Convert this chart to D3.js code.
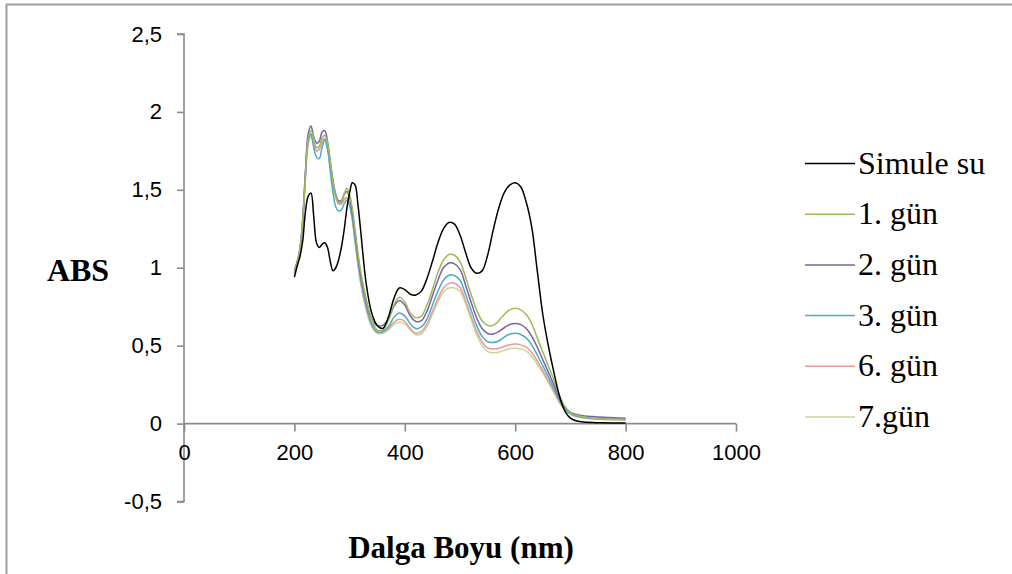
<!DOCTYPE html>
<html>
<head>
<meta charset="utf-8">
<script src="https://cdn.jsdelivr.net/npm/d3@7"></script>
<style>
  html, body { margin: 0; padding: 0; background: #fff; }
  svg { display: block; }
</style>
</head>
<body>
<svg id="chart" width="1012" height="574"></svg>
<script>
// Wavelength grid (nm) shared by all spectra
const wavelengths = [200, 205, 210, 215, 220, 225, 230, 235, 240, 245, 250, 255, 260, 265, 270, 275, 280, 285, 290, 295, 300, 305, 310, 315, 320, 330, 340, 350, 360, 370, 380, 390, 400, 410, 420, 430, 440, 450, 460, 470, 480, 490, 500, 510, 520, 530, 540, 550, 560, 570, 580, 590, 600, 610, 620, 630, 640, 650, 660, 670, 680, 690, 700, 710, 720, 740, 760, 780, 800];

// Absorbance values
const simuleSu = [0.94, 1.01, 1.07, 1.17, 1.36, 1.46, 1.48, 1.33, 1.16, 1.13, 1.15, 1.16, 1.13, 1.04, 0.98, 1.00, 1.05, 1.13, 1.24, 1.38, 1.48, 1.545, 1.53, 1.41, 1.24, 0.90, 0.71, 0.63, 0.61, 0.68, 0.80, 0.87, 0.86, 0.83, 0.825, 0.85, 0.93, 1.04, 1.16, 1.25, 1.29, 1.28, 1.21, 1.10, 1.00, 0.965, 0.98, 1.08, 1.24, 1.38, 1.48, 1.53, 1.545, 1.52, 1.42, 1.26, 0.98, 0.70, 0.50, 0.33, 0.18, 0.08, 0.035, 0.018, 0.012, 0.007, 0.005, 0.004, 0.003];
const gun1 = [0.97, 1.03, 1.12, 1.30, 1.60, 1.83, 1.88, 1.83, 1.77, 1.78, 1.83, 1.85, 1.80, 1.68, 1.55, 1.46, 1.42, 1.42, 1.47, 1.51, 1.47, 1.38, 1.24, 1.10, 0.98, 0.80, 0.67, 0.60, 0.60, 0.66, 0.76, 0.81, 0.78, 0.71, 0.68, 0.69, 0.76, 0.86, 0.97, 1.05, 1.085, 1.08, 1.04, 0.94, 0.83, 0.73, 0.66, 0.63, 0.63, 0.66, 0.70, 0.73, 0.74, 0.73, 0.70, 0.64, 0.55, 0.46, 0.37, 0.28, 0.18, 0.11, 0.07, 0.055, 0.045, 0.035, 0.030, 0.028, 0.027];
const gun2 = [0.98, 1.04, 1.12, 1.30, 1.62, 1.86, 1.91, 1.84, 1.80, 1.81, 1.87, 1.88, 1.81, 1.68, 1.56, 1.47, 1.43, 1.43, 1.47, 1.49, 1.45, 1.35, 1.22, 1.08, 0.96, 0.79, 0.67, 0.63, 0.63, 0.67, 0.75, 0.79, 0.76, 0.69, 0.655, 0.66, 0.72, 0.82, 0.92, 1.00, 1.03, 1.025, 0.99, 0.89, 0.78, 0.68, 0.61, 0.578, 0.575, 0.59, 0.615, 0.636, 0.643, 0.635, 0.61, 0.56, 0.49, 0.41, 0.33, 0.25, 0.165, 0.105, 0.072, 0.06, 0.052, 0.045, 0.040, 0.037, 0.035];
const gun3 = [0.97, 1.03, 1.12, 1.30, 1.60, 1.82, 1.86, 1.77, 1.71, 1.70, 1.77, 1.82, 1.76, 1.62, 1.48, 1.39, 1.365, 1.37, 1.41, 1.43, 1.40, 1.32, 1.18, 1.05, 0.93, 0.76, 0.64, 0.59, 0.59, 0.62, 0.68, 0.71, 0.69, 0.64, 0.61, 0.62, 0.67, 0.76, 0.85, 0.92, 0.952, 0.95, 0.92, 0.83, 0.73, 0.63, 0.56, 0.525, 0.52, 0.53, 0.555, 0.573, 0.579, 0.572, 0.55, 0.505, 0.44, 0.37, 0.30, 0.225, 0.15, 0.095, 0.065, 0.05, 0.042, 0.035, 0.030, 0.028, 0.027];
const gun6 = [0.96, 1.02, 1.10, 1.28, 1.58, 1.80, 1.85, 1.79, 1.75, 1.76, 1.81, 1.83, 1.78, 1.66, 1.53, 1.45, 1.41, 1.41, 1.44, 1.45, 1.41, 1.31, 1.17, 1.03, 0.91, 0.74, 0.63, 0.585, 0.585, 0.61, 0.65, 0.67, 0.655, 0.61, 0.58, 0.59, 0.64, 0.72, 0.80, 0.87, 0.90, 0.90, 0.875, 0.79, 0.69, 0.595, 0.525, 0.485, 0.478, 0.483, 0.495, 0.506, 0.51, 0.505, 0.49, 0.455, 0.40, 0.34, 0.275, 0.21, 0.14, 0.09, 0.062, 0.047, 0.04, 0.033, 0.028, 0.026, 0.025];
const gun7 = [0.96, 1.02, 1.10, 1.27, 1.57, 1.79, 1.84, 1.79, 1.75, 1.76, 1.80, 1.82, 1.77, 1.65, 1.53, 1.45, 1.42, 1.41, 1.43, 1.44, 1.40, 1.30, 1.16, 1.02, 0.90, 0.73, 0.62, 0.58, 0.58, 0.60, 0.635, 0.65, 0.64, 0.60, 0.57, 0.575, 0.62, 0.70, 0.78, 0.845, 0.87, 0.87, 0.85, 0.77, 0.67, 0.57, 0.50, 0.462, 0.454, 0.458, 0.47, 0.48, 0.483, 0.478, 0.465, 0.43, 0.38, 0.325, 0.265, 0.20, 0.135, 0.088, 0.06, 0.045, 0.038, 0.030, 0.026, 0.024, 0.023];

const seriesNames = ["Simule su", "1. gün", "2. gün", "3. gün", "6. gün", "7.gün"];
const seriesValues = [simuleSu, gun1, gun2, gun3, gun6, gun7];
const seriesColors = ["#000000", "#9bbb59", "#7c5fa4", "#4bacc6", "#e89a9c", "#c4d79b"];

// Axis ticks
const xTicks = [0, 200, 400, 600, 800, 1000];
const yTicks = [-0.5, 0, 0.5, 1, 1.5, 2, 2.5];
const yTickLabels = ["-0,5", "0", "0,5", "1", "1,5", "2", "2,5"];

const svg = d3.select("#chart");

// Outer frame (top and left edges)
svg.append("path")
  .attr("d", "M6.5,574 V4.5 H1012")
  .attr("fill", "none")
  .attr("stroke", "#a0a0a0")
  .attr("stroke-width", 2);

const x = d3.scaleLinear().domain([0, 1000]).range([184, 736]);
const y = d3.scaleLinear().domain([-0.5, 2.5]).range([501.5, 34]);

const axisColor = "#8a8a8a";
const tickFont = "'Liberation Sans', Arial, sans-serif";

// Y axis
const yAxis = svg.append("g")
  .attr("transform", `translate(${x(0)},0)`)
  .call(d3.axisLeft(y).tickValues(yTicks).tickSize(7).tickPadding(15)
    .tickFormat((d, i) => yTickLabels[i]));
yAxis.select(".domain").attr("stroke", axisColor).attr("stroke-width", 1.6)
  .attr("d", `M-7,${y(-0.5)}H0V${y(2.5)}H-7`);
yAxis.selectAll(".tick line").attr("stroke", axisColor).attr("stroke-width", 1.6);
yAxis.selectAll(".tick text")
  .attr("fill", "#000").style("font-family", tickFont).style("font-size", "22px");

// X axis at y = 0
const xAxis = svg.append("g")
  .attr("transform", `translate(0,${y(0)})`)
  .call(d3.axisBottom(x).tickValues(xTicks).tickSize(8).tickPadding(13)
    .tickFormat(d3.format("d")));
xAxis.select(".domain").attr("stroke", axisColor).attr("stroke-width", 1.6)
  .attr("d", `M${x(0)},0H${x(1000)}`);
xAxis.selectAll(".tick line").attr("stroke", axisColor).attr("stroke-width", 1.6);
xAxis.selectAll(".tick text")
  .attr("fill", "#000").style("font-family", tickFont).style("font-size", "22px");

// Spectra
const line = d3.line()
  .x((d, i) => x(wavelengths[i]))
  .y(d => y(d))
  .curve(d3.curveCatmullRom.alpha(0.5));

const drawOrder = [5, 4, 3, 2, 1, 0];
svg.append("g").selectAll("path")
  .data(drawOrder)
  .join("path")
  .attr("d", k => line(seriesValues[k]))
  .attr("fill", "none")
  .attr("stroke", k => seriesColors[k])
  .attr("stroke-width", 1.5)
  .attr("stroke-linejoin", "round");

// Axis titles
const serif = "'Liberation Serif', 'Times New Roman', serif";
svg.append("text")
  .attr("x", 78).attr("y", 281)
  .attr("text-anchor", "middle")
  .style("font-family", serif).style("font-weight", "bold").style("font-size", "32px")
  .text("ABS");
svg.append("text")
  .attr("x", 461).attr("y", 558)
  .attr("text-anchor", "middle")
  .style("font-family", serif).style("font-weight", "bold").style("font-size", "31px")
  .text("Dalga Boyu (nm)");

// Legend
const legend = svg.append("g");
const legendRows = legend.selectAll("g")
  .data(seriesNames)
  .join("g")
  .attr("transform", (d, i) => `translate(805,${163.5 + i * 50.7})`);
legendRows.append("line")
  .attr("x1", 0).attr("x2", 50).attr("y1", 0).attr("y2", 0)
  .attr("stroke", (d, i) => seriesColors[i])
  .attr("stroke-width", 1.5);
legendRows.append("text")
  .attr("x", 53).attr("y", 10)
  .style("font-family", serif).style("font-size", "32px")
  .text(d => d);
</script>
</body>
</html>
